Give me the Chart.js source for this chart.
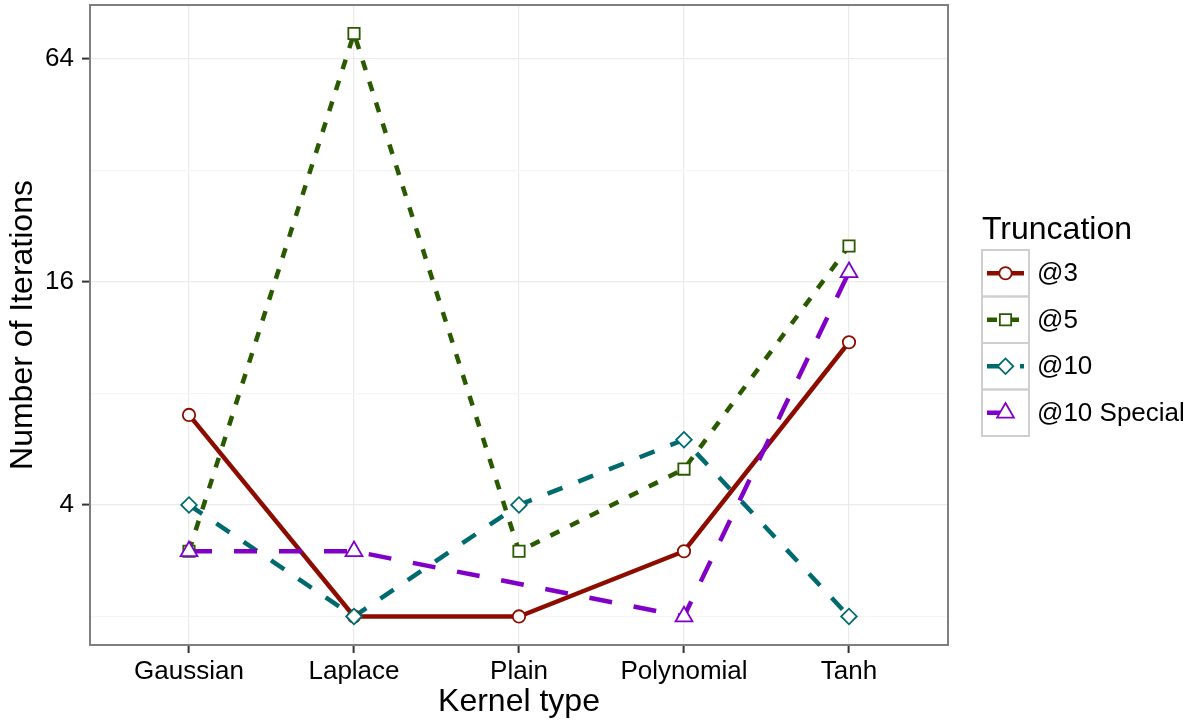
<!DOCTYPE html>
<html>
<head>
<meta charset="utf-8">
<script src="https://cdn.jsdelivr.net/npm/chart.js@4/dist/chart.umd.min.js"></script>
<style>
  html, body { margin: 0; padding: 0; background: #fff; }
  #wrap { width: 1194px; height: 725px; position: relative; }
</style>
</head>
<body>
<div id="wrap"><canvas id="iterChart"></canvas></div>
<script>
// data (log2 y axis)
const kernels = ['Gaussian', 'Laplace', 'Plain', 'Polynomial', 'Tanh'];
const trunc3 = [7, 2, 2, 3, 11];
const trunc5 = [3, 75, 3, 5, 20];
const trunc10 = [4, 2, 4, 6, 2];
const trunc10Special = [3, 3, null, 2, 17];   // no Plain value
const yMajorTicks = [4, 16, 64];
const yMinorTicks = [2, 8, 32];

const FONT = "'Liberation Sans', Arial, Helvetica, sans-serif";

const series = [
    { label: '@3', values: trunc3, color: '#8c0c00', dash: [], point: 'circle', r: 6.2 },
    { label: '@5', values: trunc5, color: '#2a5a00', dash: [10, 12], point: 'rect', r: 8 },
    { label: '@10', values: trunc10, color: '#006b6e', dash: [16, 17], point: 'rectRot', r: 7.8 },
    { label: '@10 Special', values: trunc10Special, color: '#8100c8', dash: [23, 22], point: 'triangle', r: 9.7 },
];

const toPoints = (vals) => vals
    .map((v, i) => (v == null ? null : { x: i + 1, y: v }))
    .filter(Boolean);

// lines first (all under the points), like ggplot layers
const lineSets = series.map((s, i) => ({
    label: s.label,
    data: toPoints(s.values),
    borderColor: s.color,
    borderWidth: 4.5,
    borderDash: s.dash,
    borderCapStyle: 'butt',
    pointRadius: 0,
    spanGaps: true,
    tension: 0,
    order: 20 - i,
}));
const pointSets = series.map((s, i) => ({
    label: s.label + ' pts',
    data: toPoints(s.values),
    showLine: false,
    pointStyle: s.point,
    pointRadius: s.r,
    pointBorderWidth: 1.8,
    pointBorderColor: s.color,
    pointBackgroundColor: '#ffffff',
    order: 10 - i,
}));

const panelAndLegend = {
    id: 'panelAndLegend',
    afterDraw(chart) {
        const { ctx, chartArea: a } = chart;
        ctx.save();
        ctx.strokeStyle = '#7f7f7f';
        ctx.lineWidth = 2;
        ctx.strokeRect(a.left, a.top, a.right - a.left, a.bottom - a.top);

        // legend
        const boxL = 982, boxW = 47, rowH = 46.5, top0 = 250;
        ctx.fillStyle = '#000';
        ctx.font = '32px ' + FONT;
        ctx.textBaseline = 'alphabetic';
        ctx.textAlign = 'left';
        ctx.fillText('Truncation', boxL, 239);

        series.forEach((s, i) => {
            const y0 = top0 + i * rowH;
            const cy = y0 + rowH / 2;
            ctx.setLineDash([]);
            ctx.strokeStyle = '#cfcfcf';
            ctx.lineWidth = 2;
            ctx.strokeRect(boxL, y0, boxW, rowH);

            ctx.strokeStyle = s.color;
            ctx.lineWidth = 4.5;
            ctx.lineCap = 'butt';
            ctx.setLineDash(s.dash);
            ctx.beginPath();
            ctx.moveTo(boxL + 5, cy);
            ctx.lineTo(boxL + boxW - 5, cy);
            ctx.stroke();
            ctx.setLineDash([]);

            ctx.fillStyle = '#ffffff';
            ctx.strokeStyle = s.color;
            ctx.lineWidth = 1.8;
            Chart.helpers.drawPoint(ctx, {
                pointStyle: s.point, rotation: 0, radius: s.r, borderWidth: 1.8,
            }, boxL + boxW / 2, cy);

            ctx.fillStyle = '#000';
            ctx.font = '26px ' + FONT;
            ctx.textBaseline = 'middle';
            ctx.fillText(s.label, 1037, cy + 1);
        });
        ctx.restore();
    },
};

new Chart(document.getElementById('iterChart'), {
    type: 'line',
    data: { datasets: [...lineSets, ...pointSets] },
    plugins: [panelAndLegend],
    options: {
        responsive: true,
        maintainAspectRatio: false,
        animation: false,
        events: [],
        layout: { autoPadding: false, padding: { top: 5, right: 246, left: 0, bottom: 0 } },
        plugins: { legend: { display: false }, tooltip: { enabled: false } },
        scales: {
            x: {
                type: 'linear',
                min: 0.4,
                max: 5.6,
                afterBuildTicks: (scale) => {
                    scale.ticks = kernels.map((_, i) => ({ value: i + 1 }));
                },
                afterFit: (scale) => {
                    scale.height = 80;
                    scale.paddingLeft = 0;
                    scale.paddingRight = 0;
                },
                ticks: {
                    callback: (v) => kernels[v - 1] || '',
                    color: '#000',
                    font: { family: FONT, size: 26 },
                    padding: 3,
                    maxRotation: 0,
                    autoSkip: false,
                },
                grid: {
                    color: '#ebebeb',
                    lineWidth: 1.2,
                    tickColor: '#333333',
                    tickLength: 8,
                    tickWidth: 2,
                },
                border: { display: false },
                title: {
                    display: true,
                    text: 'Kernel type',
                    color: '#000',
                    font: { family: FONT, size: 32 },
                    padding: { top: 0, bottom: 4 },
                },
            },
            y: {
                type: 'logarithmic',
                min: 1.675,
                max: 89.5,
                afterBuildTicks: (scale) => {
                    scale.ticks = [...yMinorTicks, ...yMajorTicks]
                        .sort((p, q) => p - q)
                        .map((v) => ({ value: v }));
                },
                afterFit: (scale) => {
                    scale.width = 90;
                    scale.paddingTop = 0;
                    scale.paddingBottom = 0;
                },
                ticks: {
                    callback: (v) => (yMajorTicks.includes(v) ? String(v) : ''),
                    color: '#000',
                    font: { family: FONT, size: 26 },
                    padding: 8,
                    autoSkip: false,
                },
                grid: {
                    color: (c) => (yMajorTicks.includes(c.tick && c.tick.value) ? '#ebebeb' : '#f5f5f5'),
                    lineWidth: 1.2,
                    tickColor: (c) => (yMajorTicks.includes(c.tick && c.tick.value) ? '#333333' : 'rgba(0,0,0,0)'),
                    tickLength: 8,
                    tickWidth: 2,
                },
                border: { display: false },
                title: {
                    display: true,
                    text: 'Number of Iterations',
                    color: '#000',
                    font: { family: FONT, size: 32 },
                    padding: { top: 4, bottom: 0 },
                },
            },
        },
    },
});
</script>
</body>
</html>
